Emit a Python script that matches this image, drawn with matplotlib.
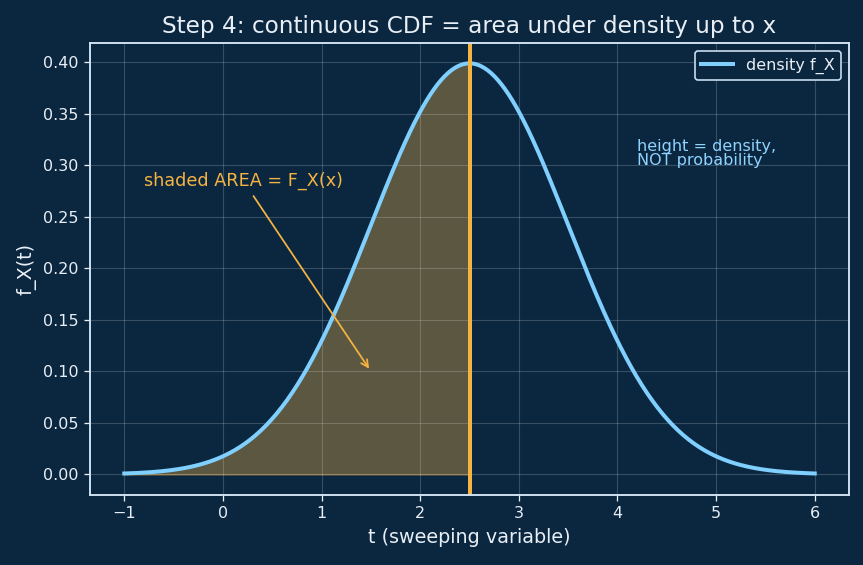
import numpy as np
import matplotlib
matplotlib.use('Agg')
import matplotlib.pyplot as plt

# density parameters and sweep
MU = 2.5
SIGMA = 1.0
T_MIN, T_MAX = -1.0, 6.0
X_CUT = 2.5

BG = '#0b2740'
LINE_C = '#7fcfff'
ORANGE = '#f5b342'
TEXT_C = '#e8eef5'

t = np.linspace(T_MIN, T_MAX, 400)
f = np.exp(-0.5 * ((t - MU) / SIGMA) ** 2) / (SIGMA * np.sqrt(2 * np.pi))

fig = plt.figure(figsize=(7.505, 4.914), dpi=115, facecolor=BG)
ax = fig.add_axes([0.104, 0.124, 0.880, 0.800])
ax.set_facecolor(BG)

mask = t <= X_CUT
ax.fill_between(t[mask], f[mask], color=ORANGE, alpha=0.35, linewidth=1)
ax.plot(t, f, color=LINE_C, linewidth=2.5, label='density f_X')
ax.axvline(X_CUT, color=ORANGE, linewidth=2.5)

ax.annotate('shaded AREA = F_X(x)', xy=(1.5, 0.10), xytext=(-0.8, 0.28),
            color=ORANGE, fontsize=11,
            arrowprops=dict(arrowstyle='->', color=ORANGE, lw=1.1))
ax.text(4.2, 0.30, 'height = density,\nNOT probability', color='#8fd3ff',
        fontsize=10, linespacing=0.95)

ax.grid(True, color='white', alpha=0.18, linewidth=0.7)
for s in ax.spines.values():
    s.set_color('#d0e4f5')
    s.set_linewidth(1.2)
ax.tick_params(colors=TEXT_C, labelcolor=TEXT_C)
ax.set_yticks(np.arange(0, 0.41, 0.05))

ax.set_title('Step 4: continuous CDF = area under density up to x', color=TEXT_C, fontsize=14.5)
ax.set_xlabel('t (sweeping variable)', color=TEXT_C, fontsize=12)
ax.set_ylabel('f_X(t)', color=TEXT_C, fontsize=12)

leg = ax.legend(loc='upper right', facecolor=BG, edgecolor='#d0e4f5', framealpha=1)
for txt in leg.get_texts():
    txt.set_color(TEXT_C)

fig.savefig('out.png', dpi=115, facecolor=BG)
